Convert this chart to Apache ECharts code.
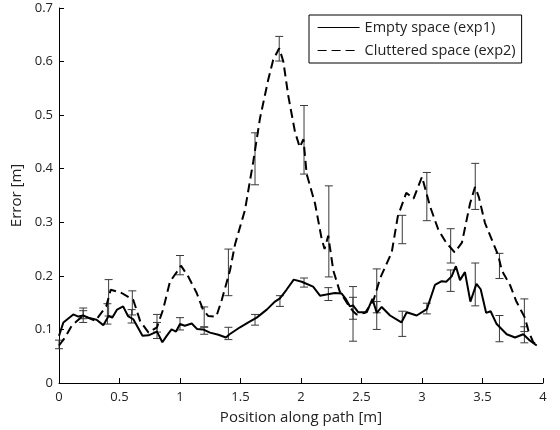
<!DOCTYPE html>
<html>
<head>
<meta charset="utf-8">
<script src="https://cdn.jsdelivr.net/npm/echarts@6/dist/echarts.min.js"></script>
<style>
    html, body { margin: 0; padding: 0; background: #fff; }
    #chart { width: 560px; height: 430px; }
</style>
</head>
<body>
<div id="chart"></div>
<script>
// exp1 - empty space (solid)
var exp1X = [0, 0.036, 0.118, 0.16, 0.2, 0.24, 0.31, 0.366, 0.41, 0.44, 0.48, 0.53, 0.57, 0.614, 0.69, 0.74, 0.81, 0.854, 0.89, 0.93,
    0.967, 1.0, 1.04, 1.097, 1.14, 1.19, 1.248, 1.317, 1.38, 1.41, 1.496, 1.565, 1.634, 1.717, 1.785, 1.826, 1.88, 1.94, 2.006, 2.10,
    2.157, 2.21, 2.28, 2.336, 2.37, 2.405, 2.43, 2.474, 2.543, 2.59, 2.626, 2.667, 2.736, 2.83, 2.874, 2.956, 3.04, 3.107, 3.163, 3.2,
    3.245, 3.28, 3.314, 3.355, 3.40, 3.45, 3.485, 3.53, 3.567, 3.617, 3.70, 3.769, 3.837, 3.893, 3.948];
var exp1Y = [0.088, 0.113, 0.128, 0.124, 0.126, 0.122, 0.118, 0.108, 0.125, 0.122, 0.137, 0.143, 0.125, 0.119, 0.088, 0.089, 0.096, 0.076, 0.088, 0.10,
    0.096, 0.11, 0.107, 0.111, 0.101, 0.10, 0.094, 0.09, 0.085, 0.091, 0.104, 0.113, 0.122, 0.137, 0.152, 0.158, 0.174, 0.193, 0.189, 0.18,
    0.163, 0.165, 0.168, 0.167, 0.157, 0.143, 0.145, 0.132, 0.132, 0.157, 0.131, 0.142, 0.126, 0.113, 0.132, 0.126, 0.138, 0.183, 0.19, 0.189,
    0.199, 0.218, 0.192, 0.207, 0.152, 0.185, 0.175, 0.131, 0.134, 0.11, 0.091, 0.085, 0.091, 0.079, 0.07];

// exp2 - cluttered space (dashed)
var exp2X = [0, 0.05, 0.105, 0.2, 0.30, 0.39, 0.427, 0.518, 0.614, 0.67, 0.74, 0.81, 0.86, 0.917, 0.973, 1.008, 1.07, 1.138, 1.19, 1.234,
    1.30, 1.345, 1.413, 1.455, 1.537, 1.606, 1.661, 1.73, 1.77, 1.82, 1.854, 1.895, 1.95, 1.99, 2.02, 2.047, 2.116, 2.17, 2.195, 2.225,
    2.267, 2.32, 2.39, 2.43, 2.46, 2.53, 2.6, 2.653, 2.75, 2.80, 2.87, 2.93, 3.0, 3.066, 3.135, 3.2, 3.27, 3.33, 3.364, 3.397,
    3.438, 3.47, 3.52, 3.576, 3.63, 3.66, 3.727, 3.78, 3.85, 3.88, 3.92, 3.96];
var exp2Y = [0.07, 0.085, 0.107, 0.126, 0.116, 0.143, 0.174, 0.168, 0.155, 0.116, 0.094, 0.104, 0.137, 0.189, 0.207, 0.219, 0.198, 0.168, 0.137, 0.125,
    0.124, 0.155, 0.21, 0.259, 0.323, 0.414, 0.494, 0.567, 0.603, 0.625, 0.60, 0.536, 0.469, 0.44, 0.455, 0.39, 0.335, 0.27, 0.25, 0.275,
    0.21, 0.171, 0.146, 0.134, 0.128, 0.131, 0.155, 0.195, 0.244, 0.311, 0.355, 0.344, 0.385, 0.33, 0.286, 0.262, 0.244, 0.262, 0.299, 0.335,
    0.366, 0.347, 0.299, 0.268, 0.238, 0.21, 0.183, 0.152, 0.122, 0.097, 0.076, 0.07];

// error bars
var err1X = [0.2, 0.4, 0.6, 0.81, 1.0, 1.2, 1.4, 1.62, 1.826, 2.025, 2.226, 2.43, 2.626, 2.837, 3.04, 3.237, 3.44, 3.64, 3.846];
var err1Lo = [0.113, 0.11, 0.112, 0.083, 0.099, 0.091, 0.081, 0.108, 0.143, 0.179, 0.154, 0.119, 0.131, 0.087, 0.129, 0.171, 0.144, 0.077, 0.075];
var err1Hi = [0.14, 0.148, 0.137, 0.113, 0.122, 0.104, 0.104, 0.128, 0.163, 0.196, 0.178, 0.16, 0.152, 0.134, 0.149, 0.211, 0.224, 0.126, 0.105];

var err2X = [0, 0.2, 0.41, 0.606, 0.81, 1.0, 1.2, 1.4, 1.62, 1.82, 2.025, 2.23, 2.43, 2.626, 2.837, 3.04, 3.237, 3.44, 3.64, 3.846];
var err2Lo = [0.064, 0.12, 0.125, 0.127, 0.095, 0.202, 0.105, 0.163, 0.37, 0.601, 0.39, 0.198, 0.078, 0.10, 0.26, 0.303, 0.224, 0.324, 0.195, 0.096];
var err2Hi = [0.08, 0.135, 0.193, 0.172, 0.128, 0.238, 0.142, 0.25, 0.467, 0.647, 0.518, 0.368, 0.18, 0.213, 0.313, 0.393, 0.288, 0.41, 0.242, 0.157];

var xTicks = [0, 0.5, 1, 1.5, 2, 2.5, 3, 3.5, 4];
var yTicks = [0, 0.1, 0.2, 0.3, 0.4, 0.5, 0.6, 0.7];

var FONT = 'Open Sans';

var pairs = function (xs, ys) {
    return xs.map(function (x, i) { return [x, ys[i]]; });
};
var triples = function (xs, lo, hi) {
    return xs.map(function (x, i) { return [x, lo[i], hi[i]]; });
};

//误差线
var renderErr = function (params, api) {
    var x = api.value(0);
    var pLo = api.coord([x, api.value(1)]);
    var pHi = api.coord([x, api.value(2)]);
    var w = 4;
    var st = { stroke: '#3a3a3a', lineWidth: 1 };
    return {
        type: 'group',
        children: [
            { type: 'line', shape: { x1: pLo[0], y1: pLo[1], x2: pHi[0], y2: pHi[1] }, style: st },
            { type: 'line', shape: { x1: pLo[0] - w, y1: pLo[1], x2: pLo[0] + w, y2: pLo[1] }, style: st },
            { type: 'line', shape: { x1: pHi[0] - w, y1: pHi[1], x2: pHi[0] + w, y2: pHi[1] }, style: st }
        ]
    };
};

var chart = echarts.init(document.getElementById('chart'));
chart.setOption({
    animation: false,
    backgroundColor: '#fff',
    textStyle: { fontFamily: FONT, color: '#222' },
    grid: { left: 59, right: 17, top: 8, bottom: 40 },
    legend: {
        data: ['Empty space (exp1)', 'Cluttered space (exp2)'],
        orient: 'vertical',
        left: 309,
        top: 15,
        padding: [5, 6, 5, 8],
        itemWidth: 42,
        itemHeight: 14,
        itemGap: 8,
        borderColor: '#000',
        borderWidth: 1,
        borderRadius: 0,
        itemStyle: { opacity: 0 },
        lineStyle: { width: 1.2, opacity: 1 },
        textStyle: { fontFamily: FONT, fontSize: 14.5, color: '#222' }
    },
    xAxis: {
        type: 'value',
        min: xTicks[0],
        max: xTicks[xTicks.length - 1],
        interval: 0.5,
        name: 'Position along path [m]',
        nameLocation: 'middle',
        nameGap: 27,
        nameTextStyle: { fontFamily: FONT, fontSize: 15, color: '#222' },
        axisLine: { lineStyle: { color: '#000', width: 1 } },
        axisTick: { inside: true, length: 5, lineStyle: { color: '#000' } },
        axisLabel: { fontFamily: FONT, fontSize: 13, color: '#222', margin: 8 },
        splitLine: { show: false }
    },
    yAxis: {
        type: 'value',
        min: yTicks[0],
        max: yTicks[yTicks.length - 1],
        interval: 0.1,
        name: 'Error [m]',
        nameLocation: 'middle',
        nameGap: 31,
        nameTextStyle: { fontFamily: FONT, fontSize: 15, color: '#222' },
        axisLine: { show: true, lineStyle: { color: '#000', width: 1 } },
        axisTick: { show: true, inside: true, length: 5, lineStyle: { color: '#000' } },
        axisLabel: { fontFamily: FONT, fontSize: 13, color: '#222', margin: 6 },
        splitLine: { show: false }
    },
    series: [
        {
            name: 'err1',
            type: 'custom',
            renderItem: renderErr,
            encode: { x: 0, y: [1, 2] },
            data: triples(err1X, err1Lo, err1Hi),
            z: 1
        },
        {
            name: 'err2',
            type: 'custom',
            renderItem: renderErr,
            encode: { x: 0, y: [1, 2] },
            data: triples(err2X, err2Lo, err2Hi),
            z: 1
        },
        {
            name: 'Empty space (exp1)',
            type: 'line',
            symbol: 'none',
            data: pairs(exp1X, exp1Y),
            lineStyle: { color: '#000', width: 2 },
            itemStyle: { color: '#000' },
            z: 3
        },
        {
            name: 'Cluttered space (exp2)',
            type: 'line',
            symbol: 'none',
            data: pairs(exp2X, exp2Y),
            lineStyle: { color: '#000', width: 2, type: [9, 5] },
            itemStyle: { color: '#000' },
            z: 3
        }
    ]
});
</script>
</body>
</html>
